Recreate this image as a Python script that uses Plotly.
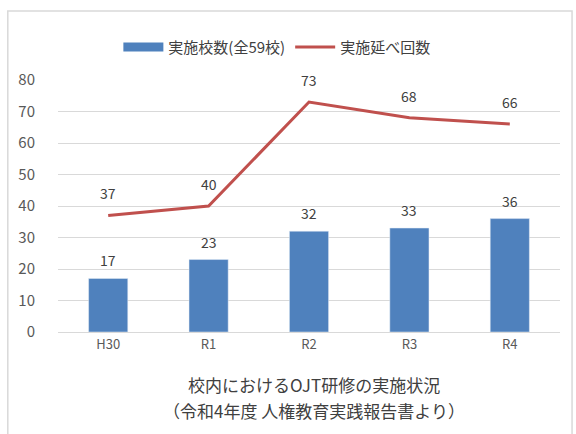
import plotly.graph_objects as go

categories = ["H30", "R1", "R2", "R3", "R4"]
schools = [17, 23, 32, 33, 36]
sessions = [37, 40, 73, 68, 66]
y_ticks = [0, 10, 20, 30, 40, 50, 60, 70, 80]

blue = "#4F81BD"
red = "#C0504D"
font_family = "Noto Sans CJK JP, Noto Sans, sans-serif"

fig = go.Figure()
fig.add_trace(go.Bar(x=categories, y=schools, marker_color=blue, width=0.39,
                     showlegend=False, name="実施校数(全59校)"))
fig.add_trace(go.Scatter(x=[None], y=[None], mode="lines",
                         line=dict(color=blue, width=9), name="実施校数(全59校)"))
fig.add_trace(go.Scatter(x=categories, y=sessions, mode="lines",
                         line=dict(color=red, width=3), name="実施延べ回数"))

annotations = []
for c, v in zip(categories, schools):
    annotations.append(dict(x=c, y=v, text=str(v), showarrow=False, yshift=18,
                            font=dict(size=14, color="#404040", family=font_family)))
for c, v in zip(categories, sessions):
    annotations.append(dict(x=c, y=v, text=str(v), showarrow=False, yshift=22,
                            font=dict(size=14, color="#404040", family=font_family)))
annotations.append(dict(xref="paper", yref="paper", x=0.51, y=-0.21, yanchor="middle",
                        text="校内におけるOJT研修の実施状況", showarrow=False,
                        font=dict(size=17, color="#404040", family=font_family)))
annotations.append(dict(xref="paper", yref="paper", x=0.51, y=-0.31, yanchor="middle",
                        text="（令和4年度 人権教育実践報告書より）", showarrow=False,
                        font=dict(size=17, color="#404040", family=font_family)))

fig.update_layout(
    width=576, height=434,
    margin=dict(l=58, r=16, t=80, b=102),
    paper_bgcolor="white", plot_bgcolor="white",
    font=dict(family=font_family, color="#595959", size=13),
    bargap=0.6,
    legend=dict(orientation="h", x=0.436, xanchor="center", y=1.13, yanchor="middle",
                font=dict(size=15, color="#404040"), itemwidth=40),
    annotations=annotations,
    shapes=[dict(type="rect", xref="paper", yref="paper", x0=-0.1, x1=1.024,
                 y0=-0.45, y1=1.274, line=dict(color="#d9d9d9", width=1.5))],
    xaxis=dict(showgrid=False, showline=True, linecolor="#d9d9d9", linewidth=1,
               tickfont=dict(size=13, color="#595959"), ticks=""),
    yaxis=dict(range=[0, 80], tickvals=y_ticks, showgrid=True, gridcolor="#d9d9d9",
               zeroline=False, tickfont=dict(size=15, color="#595959"), ticks="",
               ticklabelstandoff=22),
)

fig.write_html("out.html", config={"displayModeBar": False},
               post_script="document.body.style.margin='0';")
